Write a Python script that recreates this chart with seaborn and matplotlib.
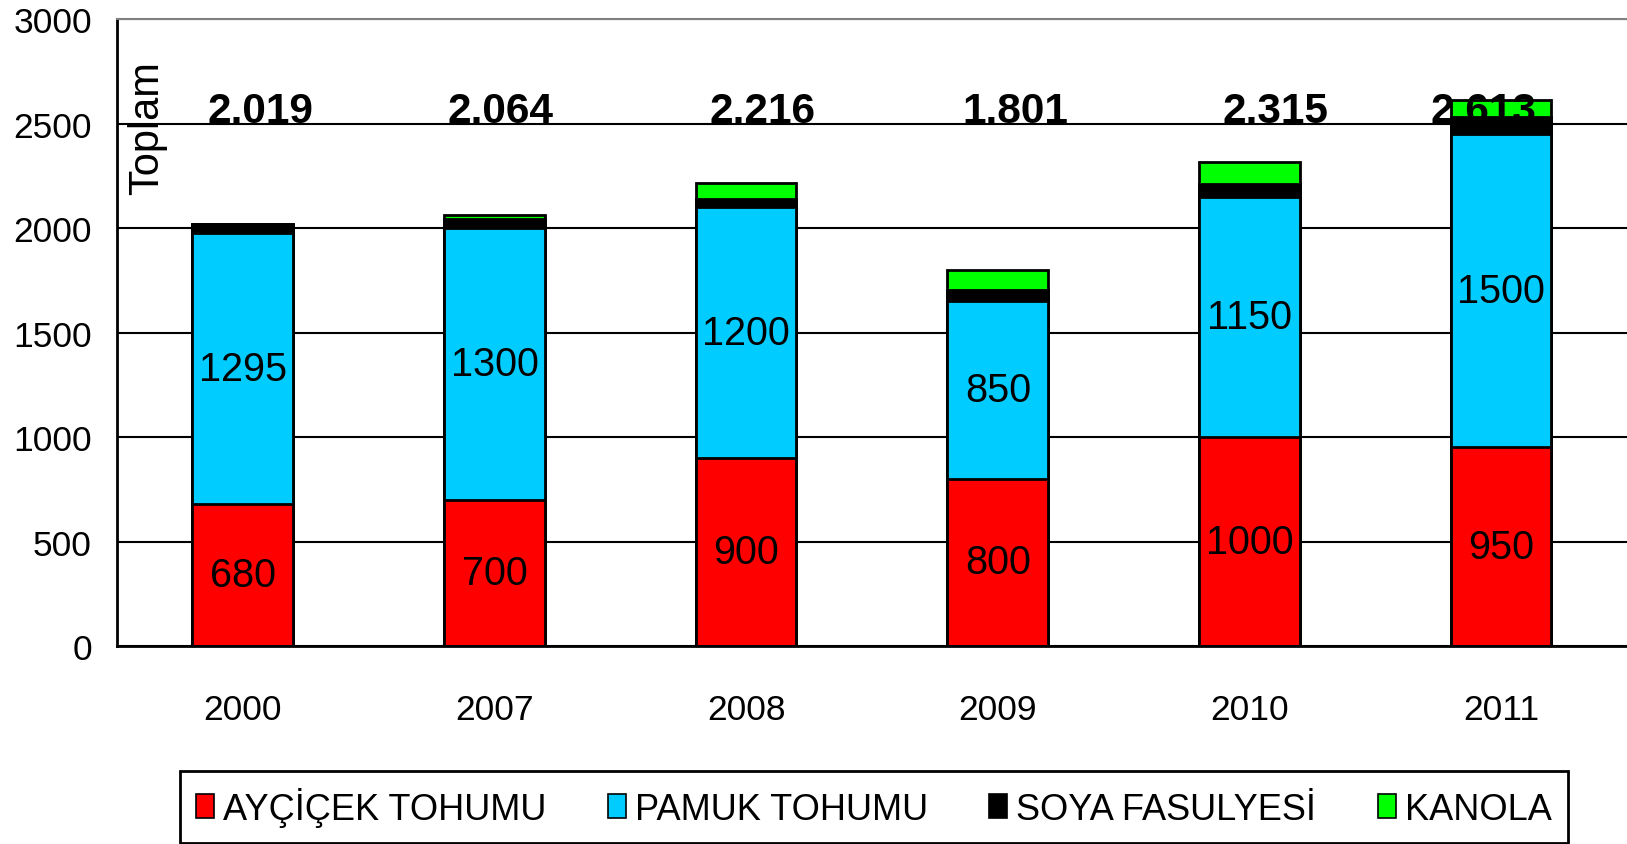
import numpy as np
import pandas as pd
import matplotlib
matplotlib.use("Agg")
import matplotlib.pyplot as plt
from matplotlib.patches import Patch
import seaborn as sns

# veriler
years = ['2000', '2007', '2008', '2009', '2010', '2011']
aycicek = [680, 700, 900, 800, 1000, 950]
pamuk = [1295, 1300, 1200, 850, 1150, 1500]
soya = [44, 44, 40, 55, 60, 80]
kanola = [0, 20, 76, 96, 105, 83]
toplam_etiket = ['2.019', '2.064', '2.216', '1.801', '2.315', '2.613']
seri_adlari = ['AYÇİÇEK TOHUMU', 'PAMUK TOHUMU', 'SOYA FASULYESİ', 'KANOLA']
renkler = ['#FF0000', '#00CCFF', '#000000', '#00FF00']

sns.set_style("white")
plt.rcParams['font.family'] = ['Liberation Sans', 'DejaVu Sans']
for k in ['text.color', 'axes.labelcolor', 'xtick.color', 'ytick.color']:
    plt.rcParams[k] = 'black'

fs_bar, fs_tick, fs_leg = 28.5, 25.5, 26
# toplam etiketleri cubuk ortasina gore biraz kaydirilmis
kayma = [0.07, 0.025, 0.065, 0.07, 0.105, -0.07]

df = pd.DataFrame({'yil': years, 'aycicek': aycicek, 'pamuk': pamuk,
                   'soya': soya, 'kanola': kanola})
df['c1'] = df['aycicek']
df['c2'] = df['c1'] + df['pamuk']
df['c3'] = df['c2'] + df['soya']
df['c4'] = df['c3'] + df['kanola']

fig = plt.figure(figsize=(16.27, 8.45), dpi=100)
ax = fig.add_axes([0.0719, 0.2343, 0.9281, 0.742])

# yigin cubuklar: en ustten baslayip ustuste ciz
for col, renk in zip(['c4', 'c3', 'c2', 'c1'], renkler[::-1]):
    sns.barplot(data=df, x='yil', y=col, color=renk, saturation=1, width=0.4,
                edgecolor='black', linewidth=2, ax=ax, zorder=2)

# cubuk ici etiketler
for i in range(len(years)):
    ax.text(i, aycicek[i] / 2, str(aycicek[i]), ha='center', va='center',
            fontsize=fs_bar, zorder=4)
    ax.text(i, aycicek[i] + pamuk[i] / 2, str(pamuk[i]), ha='center', va='center',
            fontsize=fs_bar, zorder=4)
    ax.text(i + kayma[i], 2508, toplam_etiket[i], ha='center', va='baseline', fontsize=30.5,
            fontweight='bold', zorder=5)

fig.text(0.0905, 0.8485, 'Toplam', rotation=90, ha='center', va='center', fontsize=30)

ax.set_xlim(-0.5, 5.5)
ax.set_ylim(0, 3000)
ax.set_yticks([0, 500, 1000, 1500, 2000, 2500, 3000])
ax.set_yticklabels(['0', '500', '1000', '1500', '2000', '2500', '3000'])
ax.set_xticks(np.arange(-0.5, 6, 1), minor=True)
ax.set_xlabel('')
ax.set_ylabel('')
ax.yaxis.grid(True, color='black', linewidth=1.5)
ax.set_axisbelow(True)
ax.tick_params(axis='x', which='major', length=0, pad=34, labelsize=fs_tick)
ax.tick_params(axis='x', which='minor', length=9.5, width=1.5, direction='out', color='black')
ax.tick_params(axis='y', length=8, width=1.5, direction='out', color='black', pad=10, labelsize=fs_tick)

ax.spines['right'].set_visible(False)
ax.spines['top'].set_color('#808080')
ax.spines['top'].set_linewidth(1.5)
for s in ['left', 'bottom']:
    ax.spines[s].set_color('black')
    ax.spines[s].set_linewidth(2)

handles = [Patch(facecolor=c, edgecolor='black', linewidth=1.2) for c in renkler]
leg = fig.legend(handles, seri_adlari, loc='center', bbox_to_anchor=(0.537, 0.044),
                 ncol=4, fontsize=fs_leg, frameon=True,
                 fancybox=False, shadow=False,
                 handlelength=0.5, handleheight=0.65, handletextpad=0.25,
                 columnspacing=1.7, borderpad=0.45)
leg.get_frame().set_edgecolor('black')
leg.get_frame().set_linewidth(2)
leg.get_frame().set_alpha(1)

plt.savefig('out.png', dpi=100)
